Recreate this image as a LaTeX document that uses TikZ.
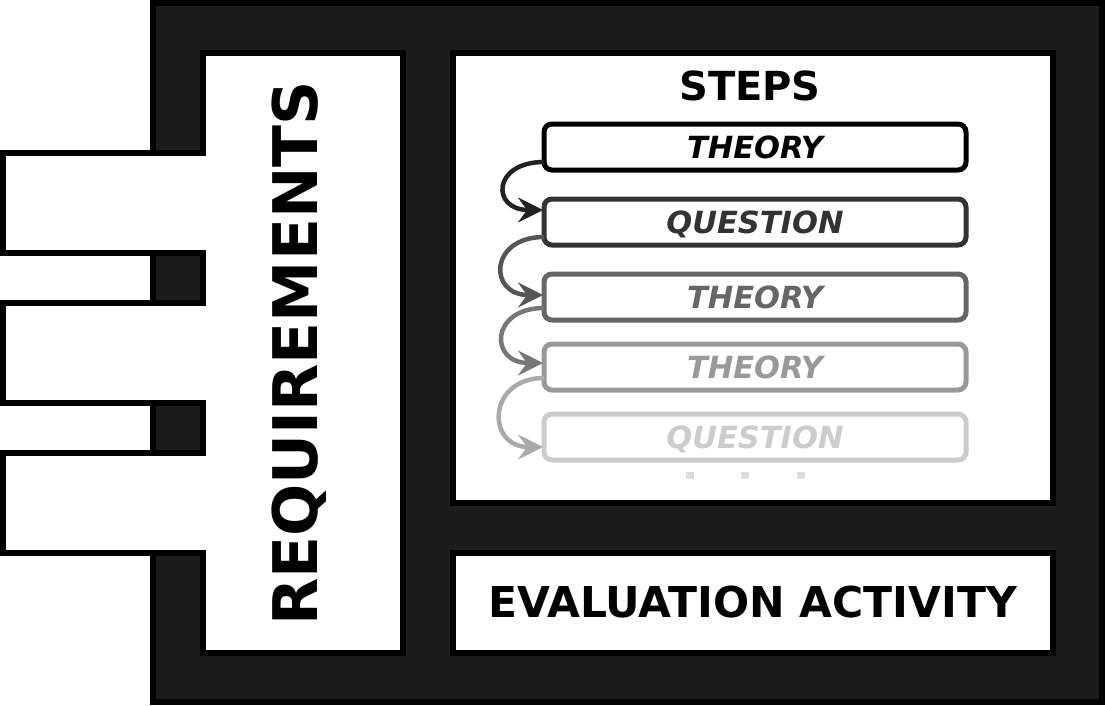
\documentclass[tikz,border=0pt]{standalone}
\usepackage{fontspec}
\setmainfont{DejaVu Sans}
\usetikzlibrary{arrows.meta,calc}
\definecolor{framedark}{HTML}{1C1C1C}
\definecolor{cA}{HTML}{000000}
\definecolor{cB}{HTML}{333333}
\definecolor{cC}{HTML}{666666}
\definecolor{cD}{HTML}{999999}
\definecolor{cE}{HTML}{CCCCCC}
\definecolor{aA}{HTML}{222222}
\definecolor{aB}{HTML}{555555}
\definecolor{aC}{HTML}{777777}
\definecolor{aD}{HTML}{AAAAAA}
\definecolor{dotgray}{HTML}{DDDDDD}
\tikzset{
  whitebox/.style={draw=black, fill=white, line width=6pt, inner sep=0pt, outer sep=0pt},
  stepbox/.style={draw, fill=white, line width=5pt, rounded corners=8pt, inner sep=0pt, outer sep=0pt,
    minimum width=422pt, minimum height=46pt, text height=22pt, text depth=0pt,
    font=\fontsize{30.5}{30.5}\selectfont\bfseries\itshape},
  flowarrow/.style={line width=4.5pt, -{Stealth[length=25pt,width=25pt,inset=9pt]}},
  dotbox/.style={fill=dotgray, inner sep=0pt, minimum width=8pt, minimum height=7pt}
}
\begin{document}
\begin{tikzpicture}[x=1pt,y=-1pt]
\useasboundingbox (0,0) rectangle (1105,705);
% outer dark frame
\draw[fill=framedark, draw=black, line width=6pt] (153,3) rectangle (1102,702);
% requirements box with tabs
\draw[fill=white, draw=black, line width=6pt]
  (202.5,52.5) -- (402.5,52.5) -- (402.5,652.5) -- (202.5,652.5) -- (202.5,552.5)
  -- (3,552.5) -- (3,452.5) -- (202.5,452.5) -- (202.5,402.5)
  -- (3,402.5) -- (3,302.5) -- (202.5,302.5) -- (202.5,252.5)
  -- (3,252.5) -- (3,152.5) -- (202.5,152.5) -- cycle;
\node[rotate=90, anchor=base, font=\fontsize{61.5}{61.5}\selectfont\bfseries] (req) at (317,353.5) {REQUIREMENTS};
% steps frame
\node[whitebox, minimum width=600pt, minimum height=450pt] (stepsframe) at (752.5,277.5) {};
\node[font=\fontsize{40}{40}\selectfont\bfseries] (stepstitle) at (750,86) {STEPS};
% evaluation box
\node[whitebox, minimum width=600pt, minimum height=100pt, font=\fontsize{42.5}{42.5}\selectfont\bfseries] (eval) at (752.5,602.5) {EVALUATION ACTIVITY};
% step boxes
\node[stepbox, draw=cA, text=cA] (s1) at (755,147) {THEORY};
\node[stepbox, draw=cB, text=cB] (s2) at (755,222) {QUESTION};
\node[stepbox, draw=cC, text=cC] (s3) at (755,297) {THEORY};
\node[stepbox, draw=cD, text=cD] (s4) at (755,367) {THEORY};
\node[stepbox, draw=cE, text=cE] (s5) at (755,437) {QUESTION};
% arrows
\draw[flowarrow, aA] ($(s1.west)+(0,15)$) .. controls +(-52,0) and +(-52,0) .. ($(s2.west)+(-1,-12)$);
\draw[flowarrow, aB] ($(s2.west)+(0,15)$) .. controls +(-55,0) and +(-55,0) .. ($(s3.west)+(-1,-2)$);
\draw[flowarrow, aC] ($(s3.west)+(0,11)$) .. controls +(-54,0) and +(-54,0) .. ($(s4.west)+(-1,-4)$);
\draw[flowarrow, aD] ($(s4.west)+(0,11)$) .. controls +(-57,0) and +(-57,0) .. ($(s5.west)+(-1,10)$);
% continuation dots
\node[dotbox] (d1) at (689.5,475.5) {};
\node[dotbox] (d2) at (744.5,475.5) {};
\node[dotbox] (d3) at (800.5,475.5) {};
\end{tikzpicture}
\end{document}
